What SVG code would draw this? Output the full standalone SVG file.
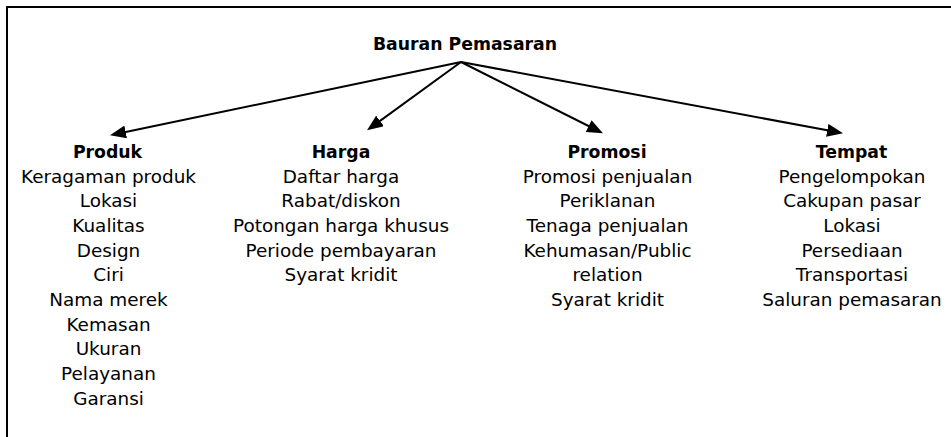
<svg xmlns="http://www.w3.org/2000/svg" width="951" height="437" viewBox="0 0 951 437">
<defs>
<style>
.t{font-family:"DejaVu Sans","Liberation Sans",sans-serif;font-size:18.4px;fill:#000;text-anchor:middle}
.h{font-family:"DejaVu Sans","Liberation Sans",sans-serif;font-size:17.3px;font-weight:bold;fill:#000;text-anchor:middle}
.c{stroke:#000;stroke-width:2;fill:none}
</style>
<marker id="ah" viewBox="-11 -6.5 17 13" refX="0" refY="0" markerWidth="17" markerHeight="13" markerUnits="userSpaceOnUse" orient="auto">
<path d="M5,0 L-11,-6.5 L-11,6.5 Z" fill="#000"/>
</marker>
</defs>
<rect width="951" height="437" fill="#fff"/>
<path d="M7,437 V7 H951" stroke="#000" stroke-width="2" fill="none"/>
<g id="connectors">
<line class="c" x1="461" y1="62" x2="114.9" y2="134.2" marker-end="url(#ah)"/>
<line class="c" x1="461" y1="62" x2="371.1" y2="127.4" marker-end="url(#ah)"/>
<line class="c" x1="461" y1="62" x2="598.5" y2="131.0" marker-end="url(#ah)"/>
<line class="c" x1="461" y1="62" x2="838.1" y2="132.3" marker-end="url(#ah)"/>
</g>
<g id="root"><text class="h" x="465" y="50">Bauran Pemasaran</text></g>
<g id="produk">
<text class="h" x="107.5" y="158">Produk</text>
<text class="t" x="108.5" y="182.5">Keragaman produk</text>
<text class="t" x="108.5" y="207.2">Lokasi</text>
<text class="t" x="108.5" y="231.8">Kualitas</text>
<text class="t" x="108.5" y="256.5">Design</text>
<text class="t" x="108.5" y="281.2">Ciri</text>
<text class="t" x="108.5" y="305.8">Nama merek</text>
<text class="t" x="108.5" y="330.5">Kemasan</text>
<text class="t" x="108.5" y="355.2">Ukuran</text>
<text class="t" x="108.5" y="379.8">Pelayanan</text>
<text class="t" x="108.5" y="404.5">Garansi</text>
</g>
<g id="harga">
<text class="h" x="341" y="158">Harga</text>
<text class="t" x="341" y="182.5">Daftar harga</text>
<text class="t" x="341" y="207.2">Rabat/diskon</text>
<text class="t" x="341" y="231.8">Potongan harga khusus</text>
<text class="t" x="341" y="256.5">Periode pembayaran</text>
<text class="t" x="341" y="281.2">Syarat kridit</text>
</g>
<g id="promosi">
<text class="h" x="607" y="158">Promosi</text>
<text class="t" x="607.5" y="182.5">Promosi penjualan</text>
<text class="t" x="607.5" y="207.2">Periklanan</text>
<text class="t" x="607.5" y="231.8">Tenaga penjualan</text>
<text class="t" x="607.5" y="256.5">Kehumasan/Public</text>
<text class="t" x="607.5" y="281.2">relation</text>
<text class="t" x="607.5" y="305.8">Syarat kridit</text>
</g>
<g id="tempat">
<text class="h" x="851.5" y="158">Tempat</text>
<text class="t" x="852" y="182.5">Pengelompokan</text>
<text class="t" x="852" y="207.2">Cakupan pasar</text>
<text class="t" x="852" y="231.8">Lokasi</text>
<text class="t" x="852" y="256.5">Persediaan</text>
<text class="t" x="852" y="281.2">Transportasi</text>
<text class="t" x="852" y="305.8">Saluran pemasaran</text>
</g>
</svg>
